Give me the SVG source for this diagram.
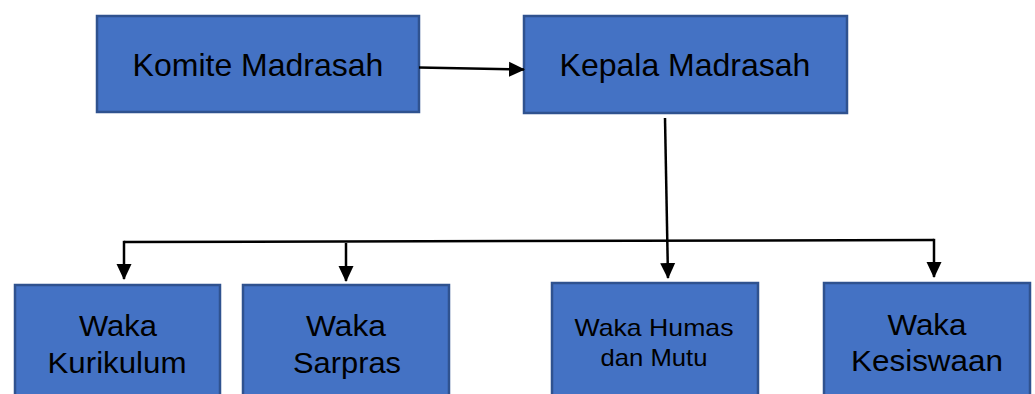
<svg xmlns="http://www.w3.org/2000/svg" width="1035" height="394" viewBox="0 0 1035 394">
  <style>
    .box { fill: #4472C4; stroke: #2F528F; stroke-width: 2.5; }
    .t { font-family: "Liberation Sans", Arial, sans-serif; fill: #000; text-anchor: middle; }
    .big { font-size: 32px; }
    .mid { font-size: 29px; }
    .sm { font-size: 24px; }
    .conn { fill: none; stroke: #000; stroke-width: 2.5; }
  </style>
  <defs>
    <marker id="arr" markerUnits="userSpaceOnUse" markerWidth="16" markerHeight="16" viewBox="0 0 16 16" refX="15" refY="8" orient="auto">
      <path d="M0,0.5 L16,8 L0,15.5 Z" fill="#000"/>
    </marker>
  </defs>
  <rect width="1035" height="394" fill="#fff"/>

  <g id="komite">
    <rect class="box" x="97" y="16" width="322" height="96"/>
    <text class="t big" x="258" y="76">Komite Madrasah</text>
  </g>
  <g id="kepala">
    <rect class="box" x="524" y="16" width="323" height="97"/>
    <text class="t big" x="685" y="76">Kepala Madrasah</text>
  </g>
  <g id="kurikulum">
    <rect class="box" x="15" y="285" width="205" height="120"/>
    <text class="t mid" x="118" y="336" textLength="78" lengthAdjust="spacingAndGlyphs">Waka</text>
    <text class="t mid" x="117" y="373" textLength="139" lengthAdjust="spacingAndGlyphs">Kurikulum</text>
  </g>
  <g id="sarpras">
    <rect class="box" x="243" y="285" width="206" height="120"/>
    <text class="t mid" x="346" y="336" textLength="80" lengthAdjust="spacingAndGlyphs">Waka</text>
    <text class="t mid" x="347" y="373" textLength="108" lengthAdjust="spacingAndGlyphs">Sarpras</text>
  </g>
  <g id="humas">
    <rect class="box" x="552" y="283" width="206" height="122"/>
    <text class="t sm" x="654" y="336" textLength="159" lengthAdjust="spacingAndGlyphs">Waka Humas</text>
    <text class="t sm" x="654" y="366" textLength="107" lengthAdjust="spacingAndGlyphs">dan Mutu</text>
  </g>
  <g id="kesiswaan">
    <rect class="box" x="824" y="283" width="206" height="122"/>
    <text class="t mid" x="927" y="335" textLength="79" lengthAdjust="spacingAndGlyphs">Waka</text>
    <text class="t mid" x="927" y="371" textLength="152" lengthAdjust="spacingAndGlyphs">Kesiswaan</text>
  </g>

  <g id="connectors">
    <path class="conn" d="M419,67.5 L524,69.5" marker-end="url(#arr)"/>
    <path class="conn" d="M665,118 L668,278" marker-end="url(#arr)"/>
    <path class="conn" d="M124,242 L934,240"/>
    <path class="conn" d="M124,240.8 L124,279" marker-end="url(#arr)"/>
    <path class="conn" d="M934,238.8 L934,277" marker-end="url(#arr)"/>
    <path class="conn" d="M346,243 L346,281" marker-end="url(#arr)"/>
  </g>
</svg>
